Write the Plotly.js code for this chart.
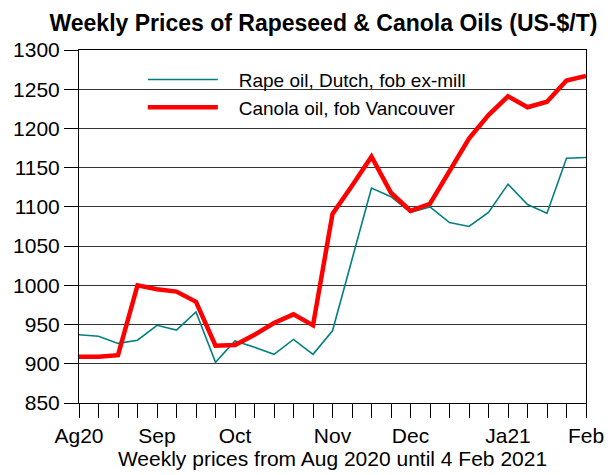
<!DOCTYPE html>
<html>
<head>
<meta charset="utf-8">
<script src="https://cdn.plot.ly/plotly-3.0.1.min.js"></script>
<style>html,body{margin:0;padding:0;background:#fff}#chart{width:608px;height:475px}</style>
</head>
<body>
<div id="chart"></div>
<script>
// week index 0 = 6 Aug 2020 ... 26 = 4 Feb 2021
var weeks = [0,1,2,3,4,5,6,7,8,9,10,11,12,13,14,15,16,17,18,19,20,21,22,23,24,25,26];
var rapeOilDutch = [937,935,926,930,949,943,966,902,929,921,912,931,912,942,1033,1124,1113,1093,1100,1080,1075,1093,1129,1103,1092,1162,1163];
var canolaOilVancouver = [909,909,911,1000,995,992,979,923,924,937,952,963,949,1091,1127,1164,1118,1095,1104,1145,1187,1217,1241,1227,1234,1261,1267];
var tickWeeks = [0,4,8,13,17,22,26];
var tickNames = ["Ag20","Sep","Oct","Nov","Dec","Ja21","Feb"];
var seriesNames = ["Rape oil, Dutch, fob ex-mill", "Canola oil, fob Vancouver"];

var tickvals = weeks.slice();
var ticktext = weeks.map(function(w){ var i = tickWeeks.indexOf(w); return i >= 0 ? tickNames[i] : ""; });
var pad = "\u00a0\u00a0\u00a0";

var traces = [
  {x: weeks, y: rapeOilDutch, type: "scatter", mode: "lines", name: pad + seriesNames[0],
   line: {color: "#008080", width: 1.6}},
  {x: weeks, y: canolaOilVancouver, type: "scatter", mode: "lines", name: pad + seriesNames[1],
   line: {color: "#ff0000", width: 4.5}}
];

var layout = {
  width: 608, height: 475,
  margin: {l: 79, r: 22, t: 50, b: 72},
  paper_bgcolor: "#fff", plot_bgcolor: "#fff",
  font: {family: "Liberation Sans, Arial, sans-serif", color: "#000", size: 21},
  title: {text: "<b>Weekly Prices of Rapeseed & Canola Oils (US-$/T)</b>", x: 0.532, xanchor: "center", y: 0.952, yanchor: "middle",
          font: {size: 23, color: "#000"}},
  xaxis: {range: [0, 26], tickmode: "array", tickvals: tickvals, ticktext: ticktext,
          ticks: "outside", ticklen: 14, tickcolor: "#000", tickwidth: 1,
          showline: true, linecolor: "#000", linewidth: 1, mirror: true,
          showgrid: false, zeroline: false, tickfont: {size: 21},
          title: {text: "Weekly prices from Aug 2020 until 4 Feb 2021", font: {size: 21}, standoff: 2}},
  yaxis: {range: [850, 1300], dtick: 50, tick0: 850,
          ticks: "outside", ticklen: 14, tickcolor: "#000", tickwidth: 1,
          showline: true, linecolor: "#000", linewidth: 1, mirror: true,
          showgrid: true, gridcolor: "#333", gridwidth: 1, zeroline: false, tickfont: {size: 21}},
  showlegend: true,
  legend: {x: 0.126, xanchor: "left", y: 0.97, yanchor: "top", bgcolor: "rgba(0,0,0,0)",
           font: {size: 19}, itemwidth: 70, borderwidth: 0}
};

Plotly.newPlot("chart", traces, layout, {displayModeBar: false, staticPlot: true});
</script>
</body>
</html>
